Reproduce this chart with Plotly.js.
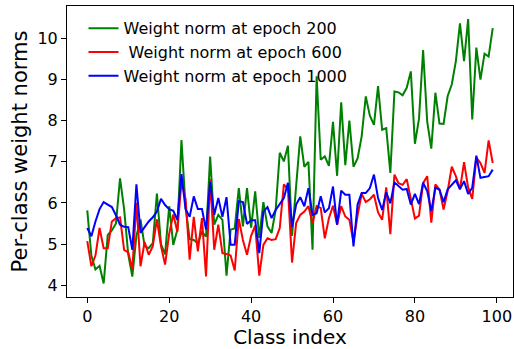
<!DOCTYPE html>
<html>
<head>
<meta charset="utf-8">
<script src="https://cdn.plot.ly/plotly-3.0.1.min.js"></script>
<style>html,body{margin:0;padding:0;background:#fff;}#chart{width:514px;height:349px;}</style>
</head>
<body>
<div id="chart"></div>
<script>
const classIndex = Array.from({length: 100}, (_, i) => i);

const epoch200 = [
  5.82, 4.72, 4.38, 4.47, 4.04, 5.22, 5.33, 5.50, 6.60, 5.85,
  4.75, 4.21, 5.20, 5.60, 4.95, 4.90, 5.02, 6.23, 5.00, 4.75,
  5.92, 4.98, 5.35, 7.53, 5.90, 5.12, 5.10, 5.02, 5.30, 5.18,
  7.13, 5.47, 5.71, 5.59, 4.23, 5.35, 5.38, 6.36, 5.43, 6.36,
  5.40, 6.28, 5.15, 6.02, 5.43, 5.27, 5.83, 7.22, 7.01, 7.39,
  5.20, 6.50, 7.62, 6.88, 7.00, 4.86, 9.08, 7.05, 7.13, 6.90,
  7.97, 6.66, 8.45, 6.92, 8.00, 6.88, 7.08, 7.62, 8.59, 8.12,
  7.90, 8.84, 7.78, 7.82, 6.73, 8.71, 8.69, 8.62, 8.80, 9.20,
  7.44, 8.05, 9.72, 7.98, 7.32, 8.68, 7.93, 7.92, 8.60, 8.88,
  9.45, 10.37, 9.45, 10.47, 8.03, 9.78, 9.00, 9.63, 9.56, 10.25
];

const epoch600 = [
  5.07, 4.46, 4.72, 5.39, 4.90, 4.90, 5.55, 5.63, 5.65, 4.86,
  4.80, 4.38, 6.00, 4.46, 5.05, 4.74, 4.95, 5.60, 4.95, 4.50,
  5.25, 5.72, 5.30, 6.52, 6.10, 4.62, 5.66, 4.82, 5.63, 4.21,
  6.58, 4.86, 5.47, 4.78, 4.76, 4.72, 4.36, 5.61, 5.10, 4.74,
  5.20, 5.45, 4.23, 4.98, 5.14, 5.10, 5.12, 5.39, 6.45, 6.33,
  4.55, 5.51, 5.71, 5.79, 5.92, 5.50, 5.92, 5.88, 5.14, 5.63,
  5.93, 5.47, 5.92, 5.67, 5.59, 5.05, 5.70, 6.22, 6.02, 6.09,
  6.20, 5.77, 5.59, 6.38, 5.24, 6.69, 6.48, 6.44, 6.58, 6.10,
  5.62, 5.69, 6.48, 6.65, 5.52, 6.45, 6.33, 5.84, 6.29, 6.88,
  6.65, 6.33, 6.99, 6.37, 6.10, 7.10, 6.97, 6.73, 7.52, 6.97
];

const epoch1000 = [
  5.39, 5.19, 5.55, 5.85, 6.02, 5.96, 5.90, 5.70, 5.47, 5.42,
  5.41, 4.86, 6.45, 5.27, 5.42, 5.55, 5.65, 5.79, 6.10, 5.95,
  5.85, 5.81, 5.59, 6.70, 5.85, 5.66, 6.16, 5.85, 5.85, 5.35,
  6.51, 5.71, 6.12, 5.66, 6.14, 4.98, 4.98, 6.04, 6.02, 5.49,
  5.58, 5.58, 4.78, 5.79, 5.90, 5.63, 5.83, 5.98, 6.12, 6.49,
  5.42, 5.96, 6.14, 5.92, 6.36, 5.71, 5.75, 6.16, 5.77, 5.87,
  6.40, 5.47, 6.30, 6.20, 6.20, 4.94, 5.96, 6.24, 6.24, 6.36,
  6.69, 6.12, 5.83, 6.26, 5.99, 6.50, 6.42, 6.32, 6.34, 5.96,
  6.22, 5.97, 6.49, 6.29, 5.80, 6.37, 6.32, 6.02, 6.33, 6.45,
  6.55, 6.34, 6.53, 6.22, 6.37, 7.15, 6.61, 6.63, 6.65, 6.81
];

const seriesNames = ['Weight norm at epoch 200', ' Weight norm at epoch 600', 'Weight norm at epoch 1000'];
const seriesColors = ['#008000', '#ff0000', '#0000ff'];
const xTicks = [0, 20, 40, 60, 80, 100];
const yTicks = [4, 5, 6, 7, 8, 9, 10];

const ys = [epoch200, epoch600, epoch1000];
const traces = ys.map((y, i) => ({
  x: classIndex, y: y, type: 'scatter', mode: 'lines',
  name: seriesNames[i],
  line: {color: seriesColors[i], width: 2}
}));

const font = {family: 'DejaVu Sans, sans-serif', color: '#000'};
const layout = {
  width: 514, height: 349,
  margin: {l: 67, r: 1, t: 6, b: 52, pad: 0},
  paper_bgcolor: '#fff', plot_bgcolor: '#fff',
  font: Object.assign({size: 16}, font),
  showlegend: true,
  legend: {x: 0.037, y: 0.982, xanchor: 'left', yanchor: 'top', bgcolor: 'rgba(0,0,0,0)',
           font: Object.assign({size: 16}, font), tracegroupgap: 0},
  xaxis: {
    range: [-4.95, 103.95], tickvals: xTicks, ticktext: xTicks.map(String),
    ticks: 'outside', ticklen: 5, tickwidth: 1, tickcolor: '#000',
    showline: true, linecolor: '#000', linewidth: 1, mirror: true,
    showgrid: false, zeroline: false,
    tickfont: Object.assign({size: 16}, font),
    title: {text: 'Class index', font: Object.assign({size: 20}, font), standoff: 8}
  },
  yaxis: {
    range: [3.712, 10.79], tickvals: yTicks, ticktext: yTicks.map(String),
    ticks: 'outside', ticklen: 5, tickwidth: 1, tickcolor: '#000',
    showline: true, linecolor: '#000', linewidth: 1, mirror: true,
    showgrid: false, zeroline: false,
    tickfont: Object.assign({size: 16}, font),
    title: {text: 'Per-class weight norms', font: Object.assign({size: 21}, font), standoff: 4}
  }
};

Plotly.newPlot('chart', traces, layout, {staticPlot: true, displayModeBar: false});
</script>
</body>
</html>
